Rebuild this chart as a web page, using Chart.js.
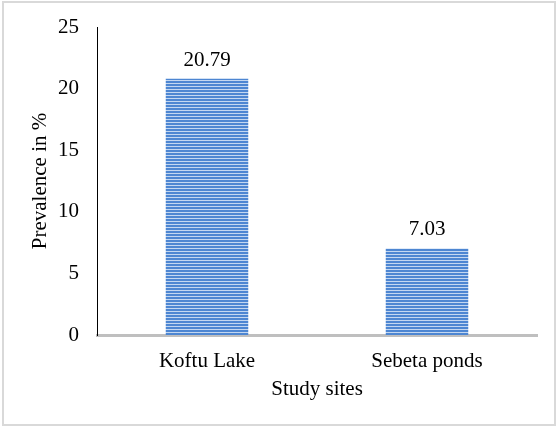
<!DOCTYPE html>
<html>
<head>
<meta charset="utf-8">
<script src="https://cdn.jsdelivr.net/npm/chart.js@4.4.0/dist/chart.umd.min.js"></script>
<style>
  body { margin: 0; background: #fff; }
  #caixa { position: relative; width: 558px; height: 430px; }
  #moldura { position: absolute; left: 2px; top: 1px; width: 554px; height: 425px;
             box-sizing: border-box; border: 2px solid #d9d9d9; pointer-events: none; }
</style>
</head>
<body>
<div id="caixa">
  <canvas id="grafico" width="558" height="430"></canvas>
  <div id="moldura"></div>
</div>
<script>
const sitios = ['Koftu Lake', 'Sebeta ponds'];
const prevalencia = [20.79, 7.03];
const rotulos = ['20.79', '7.03'];

// padrão listrado das barras (2 linhas azuis, 1 clara)
function criarListras() {
    const c = document.createElement('canvas');
    c.width = 4; c.height = 3;
    const g = c.getContext('2d');
    g.fillStyle = '#4d86d2';
    g.fillRect(0, 0, 4, 2);
    g.fillStyle = '#c3d7f1';
    g.fillRect(0, 2, 4, 1);
    return g.createPattern(c, 'repeat');
}

const fonte = { family: "'Liberation Serif', 'Times New Roman', serif", size: 21 };

// escreve os valores em cima das barras
const rotuloBarras = {
    id: 'rotuloBarras',
    afterDatasetsDraw(chart) {
        const ctx = chart.ctx;
        const meta = chart.getDatasetMeta(0);
        ctx.save();
        ctx.font = "21px 'Liberation Serif', serif";
        ctx.fillStyle = '#000';
        ctx.textAlign = 'center';
        ctx.textBaseline = 'alphabetic';
        meta.data.forEach((barra, i) => {
            ctx.fillText(rotulos[i], barra.x, barra.y - 13);
        });
        ctx.restore();
    }
};

new Chart(document.getElementById('grafico').getContext('2d'), {
    type: 'bar',
    data: {
        labels: sitios,
        datasets: [{
            data: prevalencia,
            backgroundColor: criarListras(),
            borderWidth: 0,
            barPercentage: 0.75,
            categoryPercentage: 0.5
        }]
    },
    options: {
        responsive: false,
        animation: false,
        layout: { padding: { left: 22, right: 21, top: 27, bottom: 28 } },
        plugins: { legend: { display: false }, tooltip: { enabled: false } },
        scales: {
            x: {
                afterFit: (escala) => { escala.height = 67; },
                grid: { display: false, drawTicks: false },
                border: { display: true, color: '#bfbfbf', width: 3 },
                ticks: { font: fonte, color: '#000', padding: 14 },
                title: { display: true, text: 'Study sites', font: fonte, color: '#000', padding: { top: 0, bottom: 0 } }
            },
            y: {
                min: 0, max: 25,
                afterFit: (escala) => {
                    escala.width = 75;
                    escala.paddingTop = 0;
                    escala.paddingBottom = 0;
                },
                grid: { display: false, drawTicks: false },
                border: { display: true, color: '#000', width: 1 },
                ticks: { stepSize: 5, font: fonte, color: '#000', padding: 18 },
                title: { display: true, text: 'Prevalence in %', font: fonte, color: '#000', padding: { top: 6, bottom: 0 } }
            }
        }
    },
    plugins: [rotuloBarras]
});
</script>
</body>
</html>
